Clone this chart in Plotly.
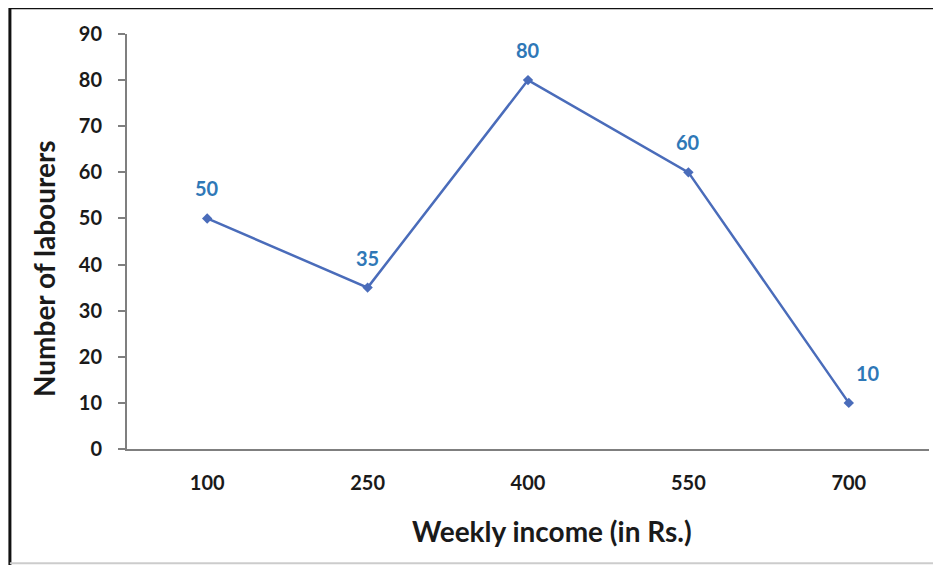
import plotly.graph_objects as go

income = ['100', '250', '400', '550', '700']
labourers = [50, 35, 80, 60, 10]
y_ticks = [0, 10, 20, 30, 40, 50, 60, 70, 80, 90]

font_name = 'Lato'
text_col = '#1a1a1a'

fig = go.Figure()

fig.add_trace(go.Scatter(
    x=income,
    y=labourers,
    mode='lines+markers',
    line=dict(color='#4a6cba', width=2.5),
    marker=dict(symbol='diamond', size=8, color='#4a6cba'),
    hoverinfo='x+y',
    showlegend=False
))

# data labels above each point (category index as x), last one nudged right
label_xshift = [0, 0, 0, 0, 19]
annotations = [
    dict(x=i, y=val, xref='x', yref='y', text=str(val), showarrow=False,
         yshift=30, xshift=dx,
         font=dict(family=font_name, size=20, color='#2f78b7', weight='bold'))
    for i, (val, dx) in enumerate(zip(labourers, label_xshift))
]

# axis titles as annotations, Excel puts them a bit off centre
title_font = dict(family=font_name, size=28, color=text_col, weight='bold')
annotations.append(dict(text='Weekly income (in Rs.)', xref='paper', yref='paper',
                        x=0.530, y=-0.198, showarrow=False, font=title_font,
                        xanchor='center', yanchor='middle'))
annotations.append(dict(text='Number of labourers', xref='paper', yref='paper',
                        x=-0.1035, y=0.436, showarrow=False, font=title_font,
                        textangle=-90, xanchor='center', yanchor='middle'))

fig.update_xaxes(
    type='category',
    range=[-0.5, 4.5],
    showline=True, linecolor='#7f7f7f', linewidth=2,
    showgrid=False, zeroline=False,
    ticks='', ticklabelstandoff=15,
    tickfont=dict(family=font_name, size=20, color=text_col, weight='bold')
)

fig.update_yaxes(
    range=[0, 90],
    tickvals=y_ticks,
    showline=True, linecolor='#7f7f7f', linewidth=2,
    showgrid=False, zeroline=False,
    ticks='outside', ticklen=7, tickcolor='#7f7f7f', tickwidth=2,
    ticklabelstandoff=12,
    tickfont=dict(family=font_name, size=20, color=text_col, weight='bold')
)

# page body has an 8px margin, so the figure is sized and placed to allow for it
fig.update_layout(
    width=933, height=557,
    margin=dict(l=119, r=12, t=26, b=116),
    plot_bgcolor='white',
    paper_bgcolor='white',
    annotations=annotations,
    shapes=[
        # frame round the whole picture
        dict(type='rect', xref='paper', yref='paper',
             x0=-0.146, x1=1.03, y0=-0.32, y1=1.063,
             line=dict(color='#111111', width=3)),
        dict(type='line', xref='paper', yref='paper',
             x0=-0.146, x1=1.03, y0=-0.275, y1=-0.275,
             line=dict(color='#cccccc', width=2)),
    ]
)

fig.write_html('out.html')
